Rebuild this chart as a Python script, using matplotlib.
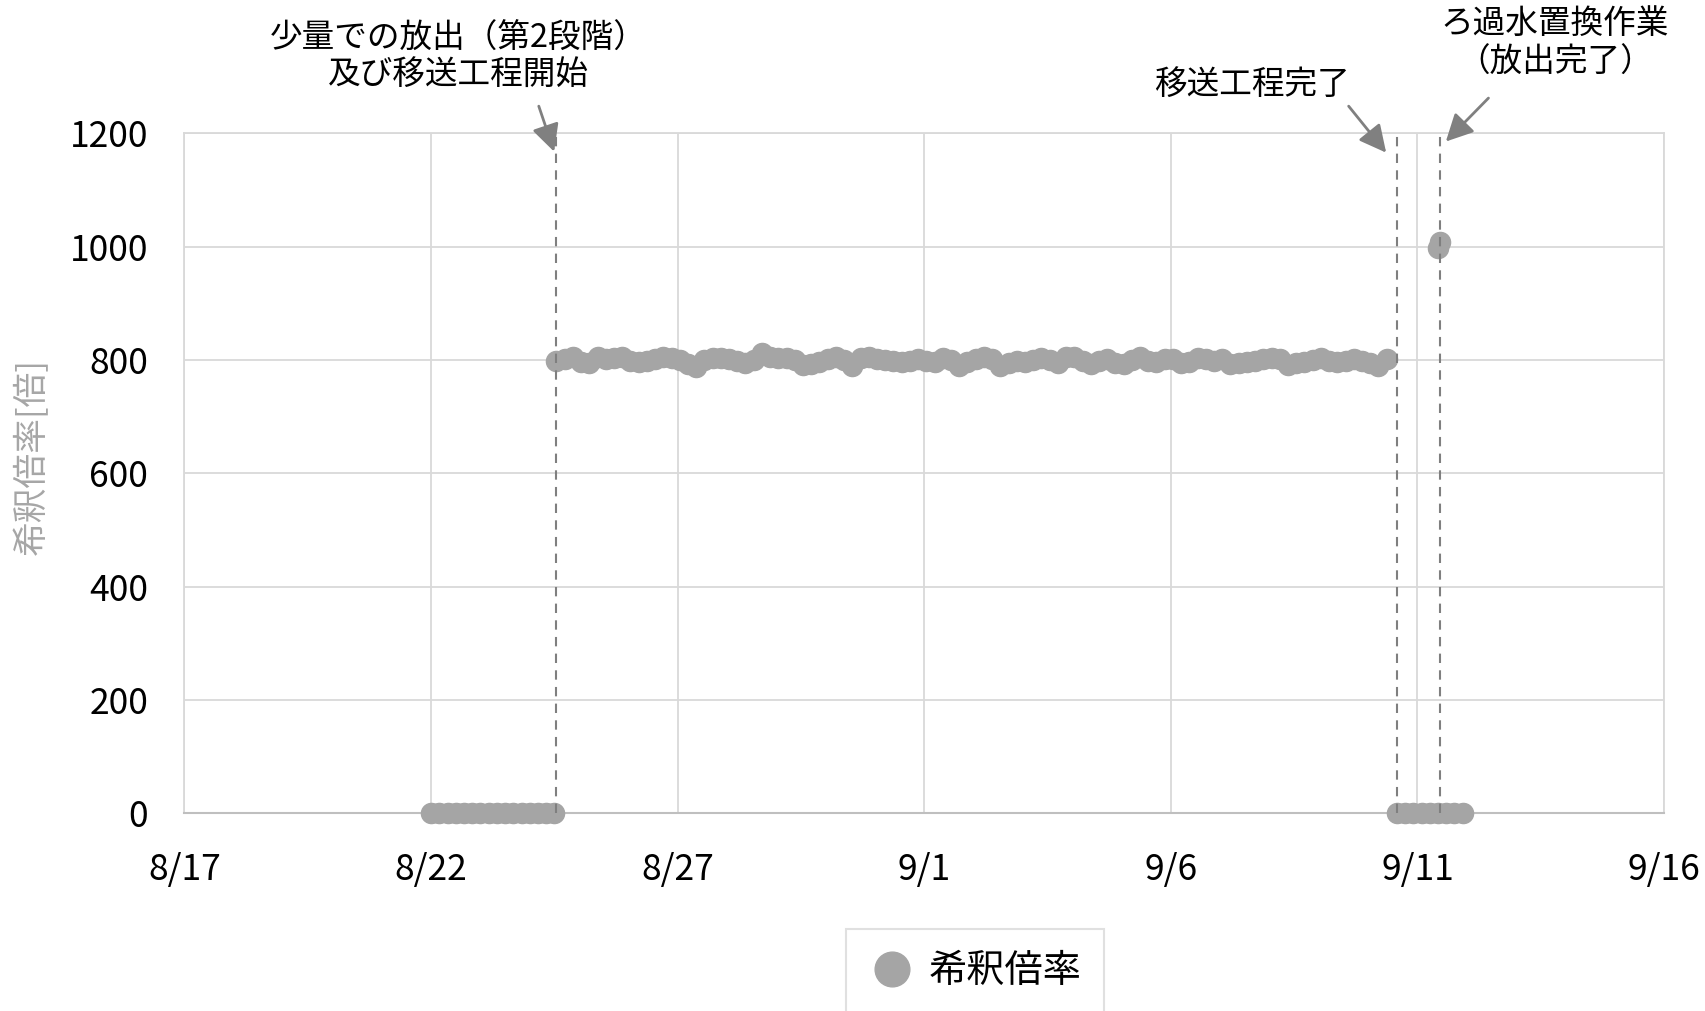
import numpy as np
import pandas as pd
import matplotlib
matplotlib.use('Agg')
import matplotlib.pyplot as plt
from matplotlib.lines import Line2D
from matplotlib.patches import FancyArrowPatch

plt.rcParams['font.family'] = ['Noto Sans CJK JP', 'DejaVu Sans']

# 4-hourly readings of the dilution ratio
zero_before_start = '2023-08-22 00:00'
zero_before = [0, 0, 0, 0, 0, 0, 0, 0, 0, 0, 0, 0, 0, 0, 0, 0]

release_start = '2023-08-24 13:00'
release_vals = [
    798, 801, 806, 797, 795, 805, 801, 803, 806, 799, 796, 799, 802, 805, 803, 800, 793, 788, 800, 804, 804,
    802, 799, 795, 800, 812, 806, 804, 803, 800, 791, 793, 797, 802, 806, 800, 789, 803, 806, 802, 800, 799,
    797, 798, 801, 799, 796, 804, 800, 790, 797, 802, 806, 802, 790, 794, 799, 797, 800, 804, 800, 794, 806,
    806, 798, 793, 799, 802, 795, 793, 800, 805, 799, 797, 802, 801, 794, 796, 803, 801, 799, 801, 793,
    794, 796, 799, 802, 804, 801, 791, 794, 797, 800, 803, 799, 796, 798, 802, 799, 795, 790, 801,
]

zero_after_start = '2023-09-10 14:00'
zero_after = [0, 0, 0, 0, 0, 0, 0, 0, 0]

flush_times = ['2023-09-11 10:00', '2023-09-11 11:00']
flush_vals = [998, 1008]

event_times = ['2023-08-24 13:00', '2023-09-10 14:00', '2023-09-11 11:00']

tick_dates = ['2023-08-17', '2023-08-22', '2023-08-27', '2023-09-01', '2023-09-06', '2023-09-11', '2023-09-16']
tick_labels = ['8/17', '8/22', '8/27', '9/1', '9/6', '9/11', '9/16']
y_ticks = [0, 200, 400, 600, 800, 1000, 1200]

series_name = '希釈倍率'
y_label = '希釈倍率[倍]'
note_start = '少量での放出（第2段階）\n及び移送工程開始'
note_transfer_end = '移送工程完了'
note_flush = 'ろ過水置換作業\n（放出完了）'

gray = '#a5a5a5'
grid_c = '#d9d9d9'

fig = plt.figure(figsize=(17.05, 10.11), dpi=100)
ax = fig.add_axes([0.1082, 0.1956, 0.976 - 0.1082, 0.868 - 0.1956])

t0 = pd.date_range(zero_before_start, periods=len(zero_before), freq='4h')
t1 = pd.date_range(release_start, periods=len(release_vals), freq='4h')
t2 = pd.date_range(zero_after_start, periods=len(zero_after), freq='4h')
t3 = pd.to_datetime(flush_times)

all_t = list(t0) + list(t1) + list(t2) + list(t3)
all_v = zero_before + release_vals + zero_after + flush_vals
ax.plot(all_t, all_v, 'o', ms=14.5, color=gray, mec=gray, clip_on=False, zorder=3)

for et in pd.to_datetime(event_times):
    ax.axvline(et, color='#7f7f7f', lw=1.5, ls=(0, (4.5, 3.5)), zorder=4)

ax.set_xlim(pd.Timestamp(tick_dates[0]), pd.Timestamp(tick_dates[-1]))
ax.set_ylim(0, 1200)
ax.set_xticks(pd.to_datetime(tick_dates))
ax.set_xticklabels(tick_labels)
ax.set_yticks(y_ticks)
ax.grid(True, color=grid_c, lw=1.3)
ax.set_axisbelow(True)
for s in ['top', 'left', 'right']:
    ax.spines[s].set_color(grid_c)
    ax.spines[s].set_linewidth(1.3)
ax.spines['bottom'].set_color('#bfbfbf')
ax.spines['bottom'].set_linewidth(1.5)
ax.tick_params(axis='both', length=0, labelsize=25.5, colors='black')
ax.tick_params(axis='x', pad=28)
ax.tick_params(axis='y', pad=26)

fig.text(0.019, 0.548, y_label, rotation=90, ha='center', va='center', fontsize=25, color='#a6a6a6')

fig.text(0.269, 0.944, note_start, ha='center', va='center', fontsize=23.5, linespacing=1.15)
fig.text(0.734, 0.916, note_transfer_end, ha='center', va='center', fontsize=23.5)
fig.text(0.912, 0.957, note_flush, ha='center', va='center', fontsize=23.5, linespacing=1.3)

arrow_kw = dict(arrowstyle='-|>,head_length=0.75,head_width=0.38', mutation_scale=22,
                color='#808080', lw=2, shrinkA=0, shrinkB=0)
fig.add_artist(FancyArrowPatch((0.316, 0.895), (0.325, 0.850), transform=fig.transFigure, **arrow_kw))
fig.add_artist(FancyArrowPatch((0.791, 0.895), (0.813, 0.849), transform=fig.transFigure, **arrow_kw))
fig.add_artist(FancyArrowPatch((0.873, 0.903), (0.848, 0.860), transform=fig.transFigure, **arrow_kw))

handle = Line2D([], [], ls='none', marker='o', ms=25, color=gray)
leg = fig.legend([handle], [series_name], loc='upper center', bbox_to_anchor=(0.572, 0.081),
                 fontsize=27.5, frameon=True, fancybox=False, borderpad=0.6, handlelength=1.2,
                 handletextpad=0.35, borderaxespad=0)
leg.get_frame().set_edgecolor(grid_c)
leg.get_frame().set_linewidth(1.5)

fig.savefig('out.png', dpi=100)
